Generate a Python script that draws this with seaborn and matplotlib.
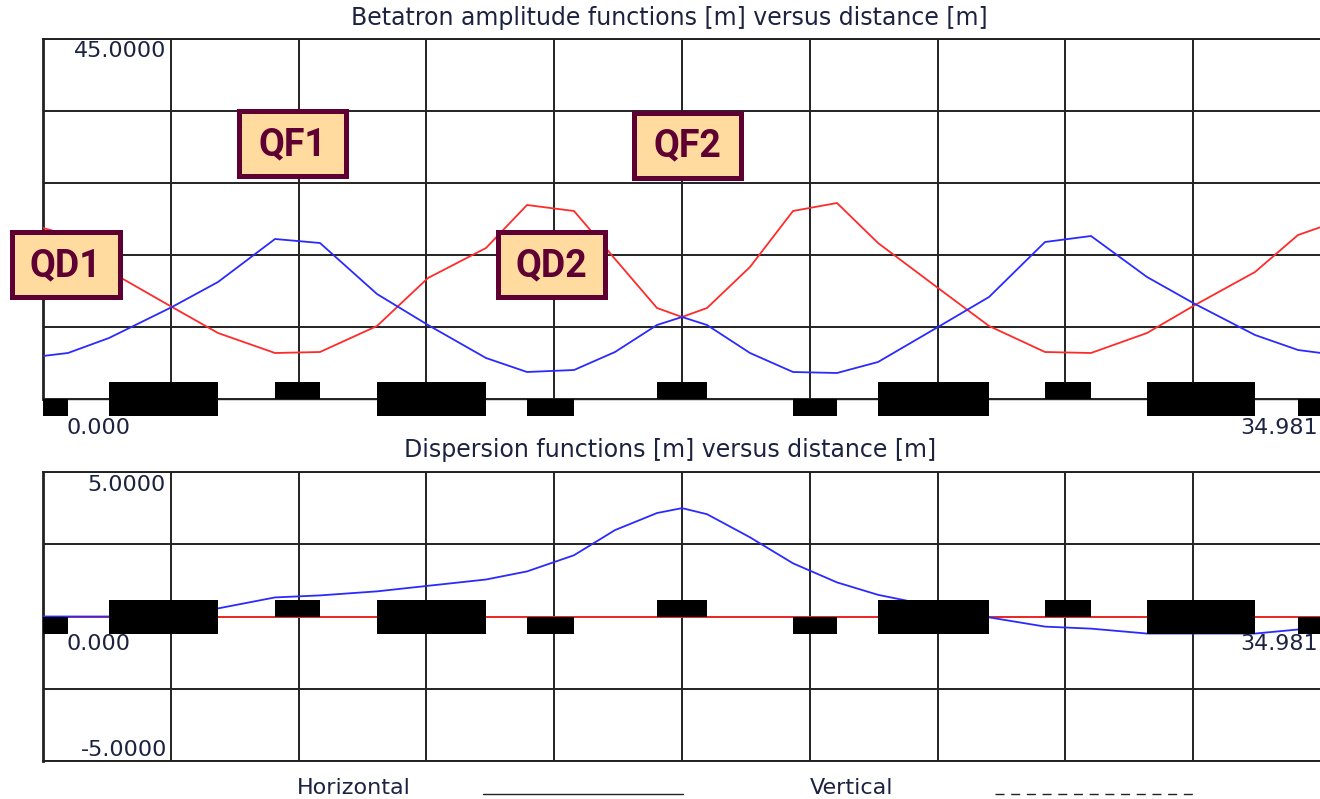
import numpy as np
import pandas as pd
import matplotlib
matplotlib.use("Agg")
import matplotlib.pyplot as plt
import seaborn as sns
from matplotlib.lines import Line2D
from matplotlib.patches import Rectangle

# ---------------- data ----------------
s_beta = [0.000, 0.684, 1.807, 3.531, 4.790, 6.350, 7.582, 9.142, 10.538, 12.126,
          13.248, 14.535, 15.657, 16.806, 17.491, 18.175, 19.352, 20.529, 21.733,
          22.856, 24.498, 25.894, 27.427, 28.686, 30.219, 31.533, 33.175, 34.352, 34.981]
beta_h = [5.375, 5.75, 7.625, 11.5, 14.625, 20.0, 19.5, 13.125, 9.25, 5.125,
          3.375, 3.625, 5.875, 9.25, 10.25, 9.25, 5.75, 3.375, 3.25,
          4.625, 9.0, 12.75, 19.625, 20.375, 15.25, 11.875, 8.0, 6.125, 5.75]
beta_v = [21.375, 20.5, 16.0, 11.5, 8.25, 5.75, 5.875, 9.125, 15.125, 18.875,
          24.25, 23.5, 17.5, 11.375, 10.25, 11.375, 16.5, 23.5, 24.5,
          19.5, 13.875, 9.125, 5.875, 5.75, 8.25, 11.75, 15.875, 20.5, 21.5]

s_disp = [0.000, 0.684, 1.807, 4.790, 6.350, 7.582, 9.142, 12.126, 13.248, 14.535,
          15.657, 16.806, 17.491, 18.175, 19.352, 20.529, 21.733, 22.856, 25.894,
          27.427, 28.686, 30.219, 33.175, 34.352, 34.981]
disp_h = [0.0, 0.0, 0.0, 0.28, 0.66, 0.73, 0.87, 1.28, 1.56, 2.12,
          2.99, 3.58, 3.75, 3.54, 2.74, 1.84, 1.18, 0.75, -0.03,
          -0.35, -0.42, -0.59, -0.59, -0.45, -0.40]
disp_v = [0.0] * len(s_disp)

elem_start = [0.000, 1.807, 6.350, 9.142, 13.248, 16.806, 20.529, 22.856, 27.427, 30.219, 34.352]
elem_end = [0.684, 4.790, 7.582, 12.126, 14.535, 18.175, 21.733, 25.894, 28.686, 33.175, 34.981]
elem_type = ["QD", "B", "QF", "B", "QD", "QF", "QD", "B", "QF", "B", "QD"]

quad_labels = ["QD1", "QF1", "QD2", "QF2"]

s_max = 34.981
beta_range = (0.0, 45.0)
disp_range = (-5.0, 5.0)
top_title = "Betatron amplitude functions [m] versus distance [m]"
bot_title = "Dispersion functions [m] versus distance [m]"

# ---------------- style ----------------
sns.set_style("white")
plt.rcParams["font.family"] = ["DejaVu Sans"]

W, H = 1320, 799
fig = plt.figure(figsize=(W / 100, H / 100), dpi=100)


def fa(l, t, r, b):
    return [l / W, 1 - b / H, (r - l) / W, (b - t) / H]


ax1 = fig.add_axes(fa(43, 39, 1321, 399))
ax2 = fig.add_axes(fa(43, 472, 1321, 761))

GRID = "#222222"
TXT = "#1c2340"
RED = "#ff2a2a"
BLUE = "#2a2aff"

df_beta = pd.DataFrame({"s": s_beta, "Horizontal": beta_h, "Vertical": beta_v})
df_disp = pd.DataFrame({"s": s_disp, "Horizontal": disp_h, "Vertical": disp_v})

for ax, df, yr, px_per_unit in [(ax1, df_beta, beta_range, 72 / 9.0),
                                 (ax2, df_disp, disp_range, 72.25 / 2.5)]:
    ax.set_xlim(0, s_max)
    ax.set_ylim(*yr)
    ax.set_xticks(np.linspace(0, s_max, 11))
    nrows = 5 if ax is ax1 else 4
    ax.set_yticks(np.linspace(yr[0], yr[1], nrows + 1))
    ax.tick_params(length=0, labelbottom=False, labelleft=False)
    ax.grid(True, color=GRID, lw=1.4)
    ax.set_axisbelow(True)
    for sp in ax.spines.values():
        sp.set_color(GRID)
        sp.set_linewidth(1.4)
    ax.spines["left"].set_linewidth(2.0)
    ax.set_facecolor("white")

    sns.lineplot(data=df, x="s", y="Vertical", ax=ax, color=RED, lw=1.3,
                 sort=False, estimator=None, legend=False)
    sns.lineplot(data=df, x="s", y="Horizontal", ax=ax, color=BLUE, lw=1.3,
                 sort=False, estimator=None, legend=False)
    for ln in ax.lines:
        ln.set_zorder(3)
    ax.set_xlabel("")
    ax.set_ylabel("")

    # lattice elements
    h = 17 / px_per_unit
    bottoms, heights = [], []
    for t in elem_type:
        if t == "B":
            bottoms.append(-h); heights.append(2 * h)
        elif t == "QF":
            bottoms.append(0.0); heights.append(h)
        else:
            bottoms.append(-h); heights.append(h)
    widths = [e - s for s, e in zip(elem_start, elem_end)]
    bars = ax.bar(elem_start, heights, width=widths, bottom=bottoms, align="edge",
                  color="black", linewidth=0, zorder=5)
    for p in bars.patches:
        p.set_clip_on(False)

ax1.spines["bottom"].set_linewidth(1.0)

# titles
fig.text(669 / W, 1 - 18 / H, top_title, ha="center", va="center", fontsize=17, color=TXT)
fig.text(670 / W, 1 - 450 / H, bot_title, ha="center", va="center", fontsize=17, color=TXT)

# range labels
lab = dict(fontsize=16, color=TXT)
fig.text(166 / W, 1 - 51 / H, f"{beta_range[1]:.4f}", ha="right", va="center", **lab)
fig.text(66 / W, 1 - 428 / H, "0.000", ha="left", va="center", **lab)
fig.text(1318 / W, 1 - 428 / H, f"{s_max:.3f}", ha="right", va="center", **lab)
fig.text(166 / W, 1 - 485 / H, f"{disp_range[1]:.4f}", ha="right", va="center", **lab)
fig.text(66 / W, 1 - 644 / H, "0.000", ha="left", va="center", **lab)
fig.text(1318 / W, 1 - 644 / H, f"{s_max:.3f}", ha="right", va="center", **lab)
fig.text(167 / W, 1 - 750 / H, f"{disp_range[0]:.4f}", ha="right", va="center", **lab)

# quadrupole labels
boxes = [(9, 230, 122, 299), (236, 109, 348, 178), (495, 230, 607, 299), (631, 110, 743, 180)]
for name, (x0, y0, x1, y1) in zip(quad_labels, boxes):
    ins = 2.5
    fig.add_artist(Rectangle(((x0 + ins) / W, 1 - (y1 - ins) / H),
                             (x1 - x0 - 2 * ins) / W, (y1 - y0 - 2 * ins) / H,
                             transform=fig.transFigure, facecolor="#ffdb9f",
                             edgecolor="#5e0032", lw=3.6, zorder=10))
    fig.text((x0 + x1) / 2 / W, 1 - ((y0 + y1) / 2 + 1) / H, name, ha="center", va="center",
             fontsize=27, fontweight="bold", color="#5e0032",
             family=["Roboto", "Liberation Sans"], zorder=11)

# legend
fig.text(297 / W, 1 - 788 / H, "Horizontal", ha="left", va="center", fontsize=16, color=TXT)
fig.add_artist(Line2D([483 / W, 683 / W], [1 - 794 / H] * 2, transform=fig.transFigure,
                      color="#222222", lw=1.0))
fig.text(810 / W, 1 - 788 / H, "Vertical", ha="left", va="center", fontsize=16, color=TXT)
fig.add_artist(Line2D([995 / W, 1197 / W], [1 - 794 / H] * 2, transform=fig.transFigure,
                      color="#222222", lw=1.0, dashes=(6.5, 4.8)))

fig.savefig("out.png", dpi=100)
